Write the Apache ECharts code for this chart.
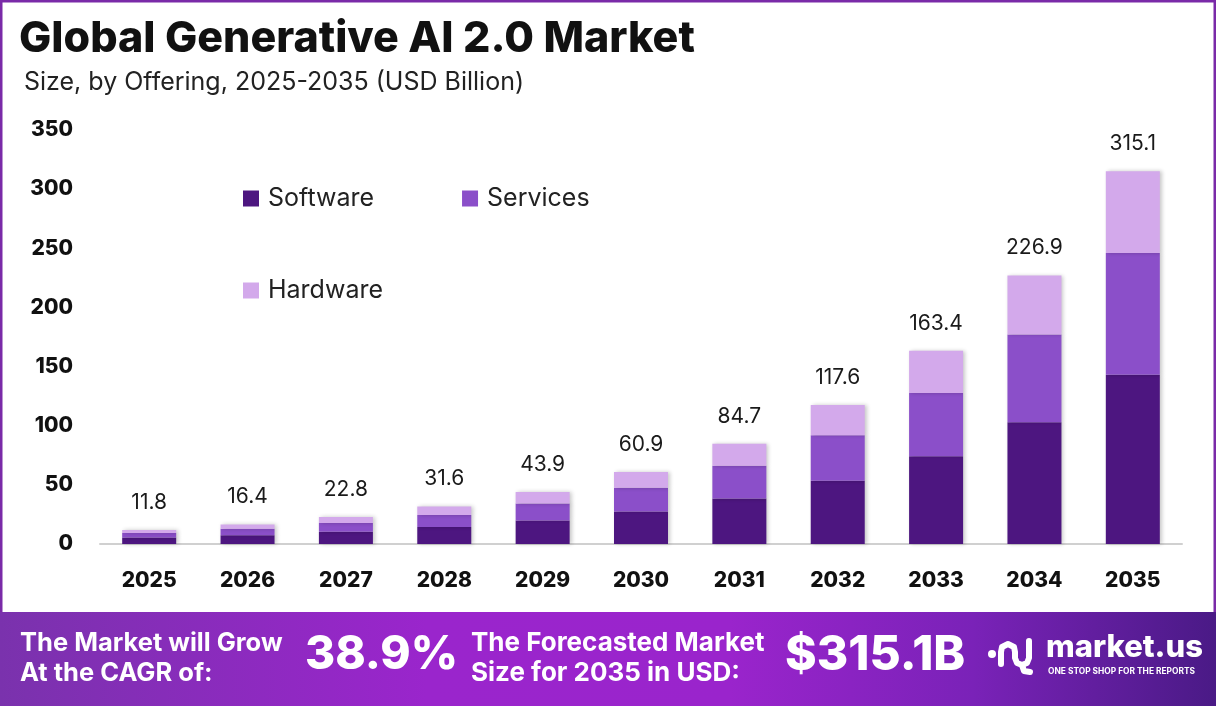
<!DOCTYPE html>
<html>
<head>
<meta charset="utf-8">
<script src="https://cdn.jsdelivr.net/npm/echarts@6/dist/echarts.min.js"></script>
<style>
html,body{margin:0;padding:0;background:#fff;}
#chart{width:1216px;height:706px;}
</style>
</head>
<body>
<div id="chart"></div>
<script>
const years = ['2025','2026','2027','2028','2029','2030','2031','2032','2033','2034','2035'];
const software = [5.4, 7.4, 10.3, 14.3, 19.9, 27.5, 38.4, 53.4, 74.2, 103.0, 143.1];
const services = [3.9, 5.4, 7.5, 10.3, 14.4, 20.0, 27.7, 38.5, 53.4, 74.2, 103.0];
const hardware = [2.5, 3.6, 5.0, 7.0, 9.6, 13.4, 18.6, 25.7, 35.8, 49.7, 69.0];
const totals = [11.8, 16.4, 22.8, 31.6, 43.9, 60.9, 84.7, 117.6, 163.4, 226.9, 315.1];
const yTicks = [0, 50, 100, 150, 200, 250, 300, 350];

const FONT = 'Inter, "Open Sans", sans-serif';
const colors = {Software:'#4d1680', Services:'#8b4fc9', Hardware:'#d3a9eb'};
const chart = echarts.init(document.getElementById('chart'), null, {renderer:'canvas'});

const shadow = {shadowBlur:4, shadowColor:'rgba(0,0,0,0.22)', shadowOffsetX:2, shadowOffsetY:0};

function mkSeries(name, data, withLabel){
  return {
    name, type:'bar', stack:'total', data, barWidth:54,
    itemStyle: Object.assign({color: colors[name]}, shadow),
    emphasis:{disabled:true},
    label: withLabel ? {
      show:true, position:'top', distance:17,
      fontFamily:FONT, fontSize:21, color:'#1a1a1a',
      formatter: p => totals[p.dataIndex].toFixed(1)
    } : {show:false}
  };
}

function txt(x, y, text, font, extra){
  return {type:'text', x, y, z:102, silent:true,
    style:Object.assign({text, fill:'#fff', font, textVerticalAlign:'top', textAlign:'left'}, extra||{})};
}

chart.setOption({
  animation:false,
  backgroundColor:'#ffffff',
  title:[
    {text:'Global Generative AI 2.0 Market', left:14, top:13,
     textStyle:{fontFamily:FONT, fontSize:43, fontWeight:800, color:'#111'}},
    {text:'Size, by Offering, 2025-2035 (USD Billion)', left:19, top:65,
     textStyle:{fontFamily:FONT, fontSize:25, fontWeight:400, color:'#222'}}
  ],
  legend:[
    {data:['Software','Services'], left:243, top:186, padding:0, orient:'horizontal',
     itemWidth:16, itemHeight:16, itemGap:88, icon:'rect',
     textStyle:{fontFamily:FONT, fontSize:25, color:'#222', padding:[0,0,0,4]}},
    {data:['Hardware'], left:243, top:278, padding:0, orient:'horizontal',
     itemWidth:16, itemHeight:16, itemGap:0, icon:'rect',
     textStyle:{fontFamily:FONT, fontSize:25, color:'#222', padding:[0,0,0,4]}}
  ],
  grid:{left:100, right:34, top:130, bottom:162, containLabel:false},
  xAxis:{
    type:'category', data:years,
    axisLine:{show:true, lineStyle:{color:'#d0d0d0', width:2}},
    axisTick:{show:false},
    axisLabel:{fontFamily:FONT, fontSize:21, fontWeight:800, color:'#111', margin:26}
  },
  yAxis:{
    type:'value', min:yTicks[0], max:yTicks[yTicks.length-1], interval:50,
    axisLine:{show:false}, axisTick:{show:false}, splitLine:{show:false},
    axisLabel:{fontFamily:FONT, fontSize:21, fontWeight:800, color:'#111', margin:27}
  },
  series:[
    mkSeries('Software', software, false),
    mkSeries('Services', services, false),
    mkSeries('Hardware', hardware, true)
  ],
  graphic:{elements:[
    {type:'rect', x:0, y:0, z:100, silent:true, shape:{x:1, y:1, width:1214, height:704},
     style:{fill:'none', stroke:'#7a2aa8', lineWidth:3}},
    {type:'rect', x:0, y:0, z:101, silent:true, shape:{x:0, y:612, width:1216, height:94},
     style:{fill:{type:'linear', x:0, y:0, x2:1, y2:0, colorStops:[
       {offset:0, color:'#7a32ad'},
       {offset:0.35, color:'#9a25cc'},
       {offset:0.6, color:'#9a24cc'},
       {offset:0.8, color:'#7a22b8'},
       {offset:1, color:'#4a1a86'}]}}},
    txt(20, 628, 'The Market will Grow\nAt the CAGR of:', '700 25.5px '+FONT, {lineHeight:30}),
    txt(305, 632, '38.9%', '800 46px '+FONT),
    txt(471, 628, 'The Forecasted Market\nSize for 2035 in USD:', '700 26px '+FONT, {lineHeight:30}),
    txt(785, 632, '$315.1B', '800 48px '+FONT),
    {type:'circle', x:0, y:0, z:102, silent:true, shape:{cx:992, cy:654, r:4}, style:{fill:'#fff'}},
    {type:'polyline', x:0, y:0, z:102, silent:true,
     shape:{points:[[1001,664],[1001,652],[1002,647],[1008,644],[1014,647],[1015,652],[1015,658],[1017,663],[1022,665],[1027,663],[1029,658],[1029,641]]},
     style:{fill:'none', stroke:'#fff', lineWidth:6, lineCap:'round', lineJoin:'round'}},
    {type:'polyline', x:0, y:0, z:102, silent:true,
     shape:{points:[[1022,665],[1024,671],[1030,672]]},
     style:{fill:'none', stroke:'#fff', lineWidth:6, lineCap:'round', lineJoin:'round'}},
    txt(1046, 632, 'market.us', '800 31px '+FONT),
    txt(1048, 667, 'ONE STOP SHOP FOR THE REPORTS', '700 8.4px '+FONT)
  ]}
});
</script>
</body>
</html>
